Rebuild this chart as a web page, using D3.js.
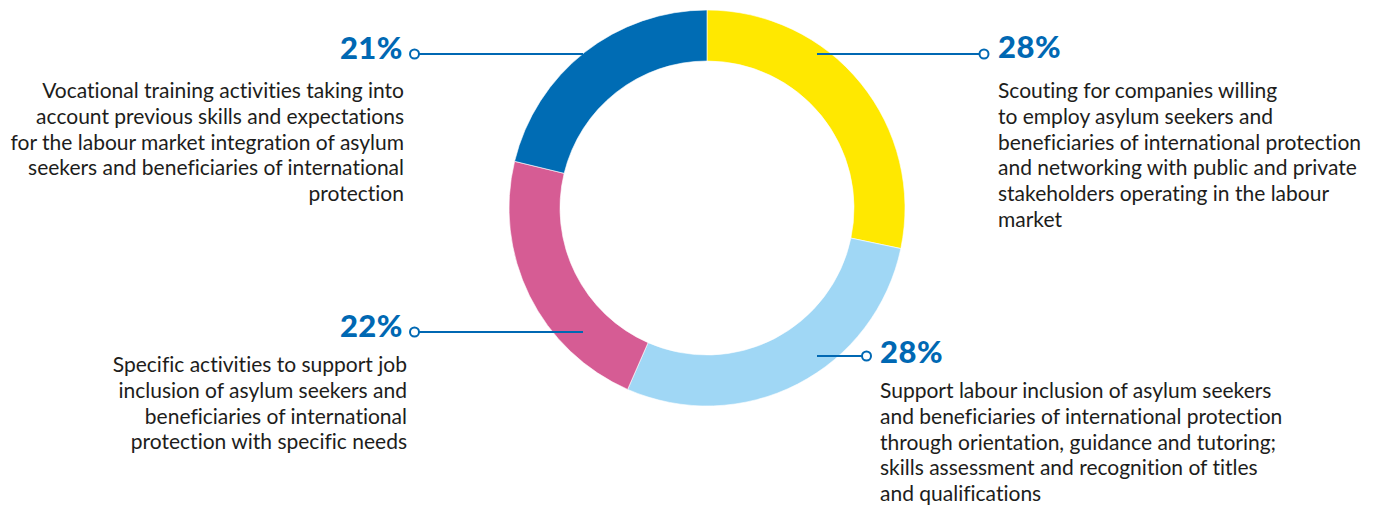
<!DOCTYPE html>
<html>
<head>
<meta charset="utf-8">
<script src="https://cdn.jsdelivr.net/npm/d3@7"></script>
<style>
  html, body { margin: 0; padding: 0; background: #fff; }
  svg { display: block; }
  text { font-variant-ligatures: none; }
</style>
</head>
<body>
<svg id="chart" width="1381" height="506"></svg>
<script>
// Share of activities by type (per cent), clockwise from 12 o'clock
const categories = ["scouting", "support", "specific", "vocational"];
const values = [28, 28, 22, 21];
const colors = ["#FFE800", "#A0D7F5", "#D65C94", "#006CB4"];
const descriptions = [
  ["Scouting for companies willing",
   "to employ asylum seekers and",
   "beneficiaries of international protection",
   "and networking with public and private",
   "stakeholders operating in the labour",
   "market"],
  ["Support labour inclusion of asylum seekers",
   "and beneficiaries of international protection",
   "through orientation, guidance and tutoring;",
   "skills assessment and recognition of titles",
   "and qualifications"],
  ["Specific activities to support job",
   "inclusion of asylum seekers and",
   "beneficiaries of international",
   "protection with specific needs"],
  ["Vocational training activities taking into",
   "account previous skills and expectations",
   "for the labour market integration of asylum",
   "seekers and beneficiaries of international",
   "protection"]
];

const svg = d3.select("#chart");
const cx = 707, cy = 208;
const outerR = 198, innerR = 147;
const accent = "#0068B3";

const pie = d3.pie().sort(null).value(d => d.value).startAngle(0).endAngle(2 * Math.PI);
const arc = d3.arc().innerRadius(innerR).outerRadius(outerR);
const color = d3.scaleOrdinal().domain(categories).range(colors);

const data = categories.map((c, i) => ({ key: c, value: values[i], lines: descriptions[i] }));

const ring = svg.append("g").attr("transform", `translate(${cx},${cy})`);
ring.selectAll("path")
  .data(pie(data))
  .join("path")
  .attr("d", arc)
  .attr("fill", d => color(d.data.key))
  .attr("stroke", "#fff")
  .attr("stroke-width", 0.6);

// Callout layout: leader line height, side, label anchor and text block
const callouts = {
  scouting:   { y: 54,  side: "right", dot: 984,   pctX: 998, pctY: 58,  textX: 998, textY: 98 },
  support:    { y: 356, side: "right", dot: 866.5, pctX: 880, pctY: 363, textX: 880, textY: 398 },
  specific:   { y: 332, side: "left",  dot: 414.5, pctX: 403, pctY: 337, textX: 407, textY: 372 },
  vocational: { y: 54,  side: "left",  dot: 414.5, pctX: 403, pctY: 59,  textX: 404, textY: 98 }
};

const lineHeight = 25.8;
const reach = 124; // leader lines run from the dot into the ring

const ann = svg.append("g");
data.forEach(d => {
  const c = callouts[d.key];
  const right = c.side === "right";
  const innerEnd = right ? cx + 110 : cx - reach;
  ann.append("line")
    .attr("x1", innerEnd).attr("x2", right ? c.dot - 4.5 : c.dot + 4.5)
    .attr("y1", c.y).attr("y2", c.y)
    .attr("stroke", accent).attr("stroke-width", 2);
  ann.append("circle")
    .attr("cx", c.dot).attr("cy", c.y).attr("r", 4.5)
    .attr("fill", "#fff").attr("stroke", accent).attr("stroke-width", 2);
  ann.append("text")
    .attr("x", c.pctX).attr("y", c.pctY)
    .attr("text-anchor", right ? "start" : "end")
    .attr("font-family", "Lato, 'Open Sans', sans-serif")
    .attr("font-weight", 900)
    .attr("font-size", 31)
    .attr("letter-spacing", 0.5)
    .attr("fill", accent)
    .text(d.value + "%");
  const t = ann.append("text")
    .attr("text-anchor", right ? "start" : "end")
    .attr("font-family", "Lato, 'Open Sans', sans-serif")
    .attr("font-size", 21)
    .attr("fill", "#1d1d1b");
  d.lines.forEach((ln, i) => {
    t.append("tspan").attr("x", c.textX).attr("y", c.textY + i * lineHeight).text(ln);
  });
});
</script>
</body>
</html>
